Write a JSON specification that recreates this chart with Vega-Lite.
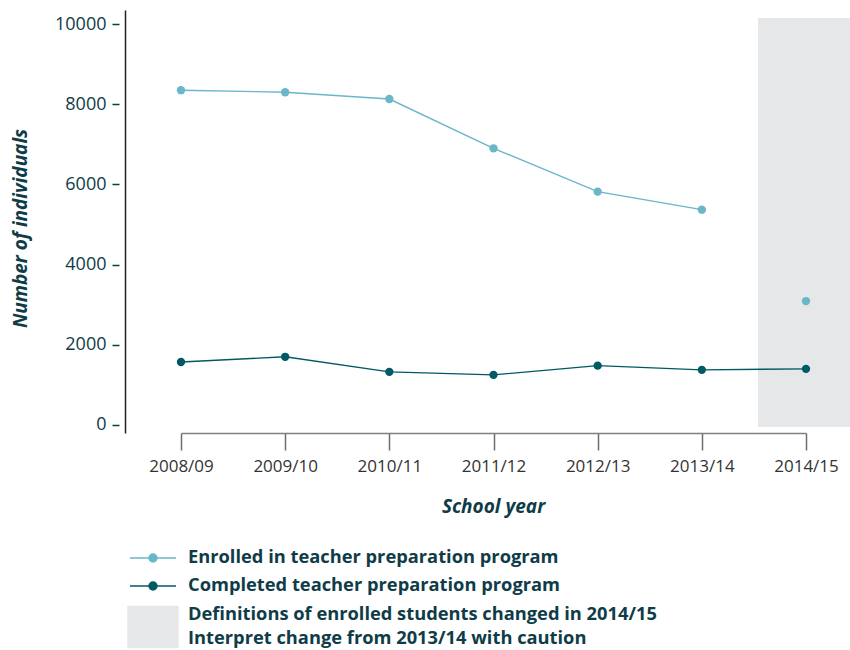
{
  "$schema": "https://vega.github.io/schema/vega-lite/v6.json",
  "width": 725,
  "height": 423,
  "autosize": {"type": "none"},
  "padding": {"left": 125, "top": 10, "right": 0, "bottom": 217},
  "background": "white",
  "config": {
    "view": {"stroke": null},
    "font": "Open Sans"
  },
  "datasets": {
    "series": [
      {"year": "2008/09", "series": "Enrolled in teacher preparation program", "seg": "e1", "value": 8350},
      {"year": "2009/10", "series": "Enrolled in teacher preparation program", "seg": "e1", "value": 8300},
      {"year": "2010/11", "series": "Enrolled in teacher preparation program", "seg": "e1", "value": 8130},
      {"year": "2011/12", "series": "Enrolled in teacher preparation program", "seg": "e1", "value": 6900},
      {"year": "2012/13", "series": "Enrolled in teacher preparation program", "seg": "e1", "value": 5820},
      {"year": "2013/14", "series": "Enrolled in teacher preparation program", "seg": "e1", "value": 5370},
      {"year": "2014/15", "series": "Enrolled in teacher preparation program", "seg": "e2", "value": 3090},
      {"year": "2008/09", "series": "Completed teacher preparation program", "seg": "c1", "value": 1570},
      {"year": "2009/10", "series": "Completed teacher preparation program", "seg": "c1", "value": 1700},
      {"year": "2010/11", "series": "Completed teacher preparation program", "seg": "c1", "value": 1325},
      {"year": "2011/12", "series": "Completed teacher preparation program", "seg": "c1", "value": 1250},
      {"year": "2012/13", "series": "Completed teacher preparation program", "seg": "c1", "value": 1480},
      {"year": "2013/14", "series": "Completed teacher preparation program", "seg": "c1", "value": 1375},
      {"year": "2014/15", "series": "Completed teacher preparation program", "seg": "c1", "value": 1400}
    ],
    "shade": [
      {"year": "2014/15", "series": "Definitions changed", "lo": -50, "hi": 10150}
    ]
  },
  "encoding": {
    "x": {
      "field": "year",
      "type": "ordinal",
      "scale": {"type": "point", "domain": ["2008/09","2009/10","2010/11","2011/12","2012/13","2013/14","2014/15"], "range": [56, 681], "padding": 0},
      "axis": {
        "title": "School year",
        "labelAngle": 0,
        "labelFontSize": 17,
        "labelColor": "#333333",
        "labelPadding": 8,
        "tickSize": 17,
        "tickColor": "#6d6d6d",
        "tickWidth": 1.5,
        "domainColor": "#808080",
        "domainWidth": 1.5,
        "titleFontSize": 19,
        "titleFontWeight": "bold",
        "titleFontStyle": "italic",
        "titleColor": "#0f3c48",
        "titlePadding": 23,
        "titleX": 368
      }
    }
  },
  "layer": [
    {
      "data": {"name": "shade"},
      "mark": {"type": "bar", "width": 100, "xOffset": 2},
      "encoding": {
        "y": {"field": "lo", "type": "quantitative"},
        "y2": {"field": "hi"},
        "color": {
          "field": "series",
          "type": "nominal",
          "scale": {
            "domain": ["Enrolled in teacher preparation program", "Completed teacher preparation program", "Definitions changed"],
            "range": ["#6bb6c9", "#005a63", "#e6e7e8"]
          },
          "legend": {
            "orient": "none",
            "legendX": 3,
            "legendY": 537,
            "title": null,
            "padding": 0,
            "symbolSize": 400,
            "labelOffset": 38,
            "labelFontSize": 18.3,
            "labelFontWeight": "bold",
            "labelColor": "#0f3c48",
            "labelLimit": 700,
            "rowPadding": 8,
            "labelExpr": "datum.label == 'Definitions changed' ? ['Definitions of enrolled students changed in 2014/15', 'Interpret change from 2013/14 with caution'] : datum.label",
            "encode": {
              "labels": {"update": {"lineHeight": {"value": 24}}},
              "symbols": {
                "update": {
                  "x": {"value": 25},
                  "y": {"signal": "datum.size / 2 + (datum.value == 'Definitions changed' ? 12 : 0)"},
                  "shape": {"signal": "datum.value == 'Definitions changed' ? 'M-2.5,-2.05H2.5V2.05H-2.5Z' : 'M-2.3,0H2.3M-0.4,0A0.4,0.4,0,1,1,0.4,0A0.4,0.4,0,1,1,-0.4,0Z'"},
                  "size": {"value": 400},
                  "fill": {"signal": "scale('color', datum.value)"},
                  "stroke": {"signal": "datum.value == 'Definitions changed' ? '#858585' : scale('color', datum.value)"},
                  "strokeWidth": {"value": 1.4},
                  "opacity": {"value": 1},
                  "fillOpacity": {"value": 1},
                  "strokeOpacity": {"value": 1}
                }
              }
            }
          }
        }
      }
    },
    {
      "data": {"name": "series"},
      "mark": {"type": "line", "strokeWidth": 1.4},
      "encoding": {
        "y": {"field": "value", "type": "quantitative"},
        "detail": {"field": "seg"},
        "color": {"field": "series", "type": "nominal", "legend": null}
      }
    },
    {
      "data": {"name": "series"},
      "mark": {"type": "point", "filled": true, "opacity": 1, "size": 70},
      "encoding": {
        "color": {"field": "series", "type": "nominal"},
        "y": {
          "field": "value",
          "type": "quantitative",
          "scale": {"domain": [-200, 10350], "nice": false, "zero": false},
          "axis": {
            "values": [0, 2000, 4000, 6000, 8000, 10000],
            "format": "d",
            "grid": false,
            "labelFontSize": 18,
            "labelColor": "#0f3c48",
            "labelPadding": 6,
            "tickSize": 13,
            "tickDash": [0, 6, 7, 100],
            "tickColor": "#0f3c48",
            "tickWidth": 1.3,
            "domainColor": "#222222",
            "domainWidth": 1.5,
            "title": "Number of individuals",
            "titleFontSize": 19,
            "titleFontWeight": "bold",
            "titleFontStyle": "italic",
            "titleColor": "#0f3c48",
            "titleBaseline": "middle",
            "titleX": -105,
            "titleY": 218
          }
        }
      }
    }
  ]
}
